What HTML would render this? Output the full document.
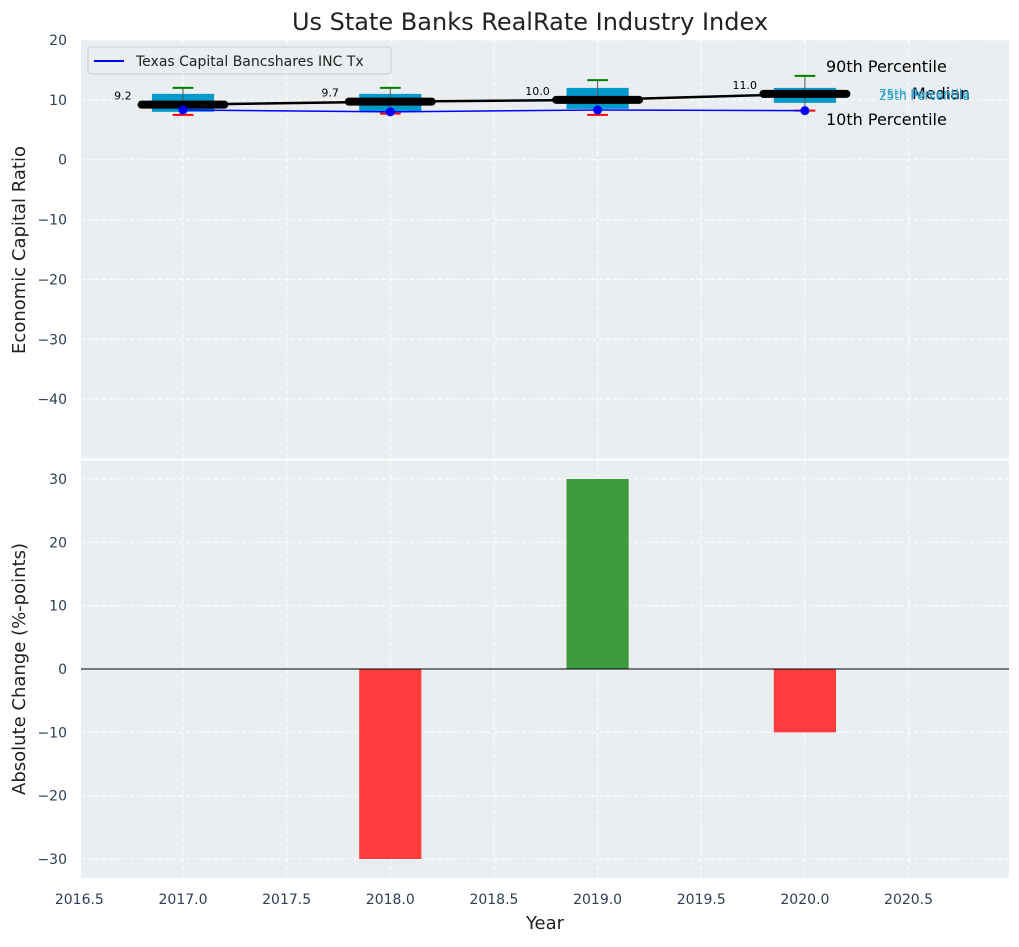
<!DOCTYPE html>
<html><head><meta charset="utf-8"><style>
body{margin:0;background:#fff;font-family:"Liberation Sans","DejaVu Sans",sans-serif}
text{font-family:"DejaVu Sans","Liberation Sans",sans-serif}
</style></head><body>
<svg id="c" width="1019" height="942" xmlns="http://www.w3.org/2000/svg"></svg>
<script>
const years=[2017,2018,2019,2020];
const p10=[7.5,7.7,7.5,8.2];
const p25=[8,8,8.5,9.5];
const med=[9.2,9.7,10.0,11.0];
const p75=[11,11,12,12];
const p90=[12,12,13.3,14];
const company=[8.3,8.0,8.3,8.2];
const change=[0,-30,30,-10];
const xTicks=[2016.5,2017.0,2017.5,2018.0,2018.5,2019.0,2019.5,2020.0,2020.5];
const yTopTicks=[20,10,0,-10,-20,-30,-40];
const yBotTicks=[30,20,10,0,-10,-20,-30];

const NS="http://www.w3.org/2000/svg",svg=document.getElementById('c');
function el(t,a,p){const e=document.createElementNS(NS,t);for(const k in a)e.setAttribute(k,a[k]);(p||svg).appendChild(e);return e;}
const L=81,R=1009;
const x=v=>183+(v-2017)*207.3;
const T0=40,T1=459,B0=460,B1=878;
const yt=v=>T0+(20-v)/70*(T1-T0);
const yb=v=>B0+(33-v)/66*(B1-B0);
function fmt(v){let s=v.toFixed(0);return v<0?'\u2212'+s.slice(1):s;}

[[T0,T1,yt,yTopTicks,'top'],[B0,B1,yb,yBotTicks,'bottom']].forEach(([a,b,f,ticks,n])=>{
 const r=el('rect',{x:L,y:a,width:R-L,height:b-a,fill:'#eaeef0'});
 
 ticks.forEach(t=>{el('line',{x1:L,x2:R,y1:f(t),y2:f(t),stroke:'#fff','stroke-dasharray':'4,3','stroke-width':1});
  const tx=el('text',{x:L-14,y:f(t)+5,'text-anchor':'end','font-size':14,fill:'#2e3e55'});tx.textContent=fmt(t);
  });
 xTicks.forEach(t=>{if(x(t)>L)el('line',{x1:x(t),x2:x(t),y1:a,y2:b,stroke:'#fff','stroke-dasharray':'4,3','stroke-width':1});});
});
el('line',{x1:L,x2:R,y1:459.5,y2:459.5,stroke:'#fff','stroke-width':2});

years.forEach((yr,i)=>{
 const g=el('g',{});
 el('rect',{x:x(yr-0.15),y:yt(p75[i]),width:x(yr+0.15)-x(yr-0.15),height:yt(p25[i])-yt(p75[i]),fill:'#0099cc'},g);
 el('line',{x1:x(yr),x2:x(yr),y1:yt(p90[i]),y2:yt(p10[i]),stroke:'#555','stroke-width':1},g);
 el('line',{x1:x(yr-0.05),x2:x(yr+0.05),y1:yt(p90[i]),y2:yt(p90[i]),stroke:'green','stroke-width':2},g);
 el('line',{x1:x(yr-0.05),x2:x(yr+0.05),y1:yt(p10[i]),y2:yt(p10[i]),stroke:'red','stroke-width':2},g);
 el('line',{x1:x(yr-0.2),x2:x(yr+0.2),y1:yt(med[i]),y2:yt(med[i]),stroke:'#000','stroke-width':8,'stroke-linecap':'round'},g);
 const t=el('text',{x:x(yr-0.29),y:yt(med[i])-5,'text-anchor':'middle','font-size':11,fill:'#000'},g);t.textContent=med[i].toFixed(1);
 
});
const ml=el('polyline',{points:years.map((y,i)=>x(y)+','+yt(med[i])).join(' '),fill:'none',stroke:'#000','stroke-width':2.5});

const cl=el('polyline',{points:years.map((y,i)=>x(y)+','+yt(company[i])).join(' '),fill:'none',stroke:'blue','stroke-width':1.5});

years.forEach((y,i)=>{const c=el('circle',{cx:x(y),cy:yt(company[i]),r:4.5,fill:'blue'});});

[['90th Percentile',826,72,16,'#000'],['Median',912,99,16,'#000'],['10th Percentile',826,125,16,'#000'],['75th Percentile',879,98,12,'#2aa0d0'],['25th Percentile',879,100,12,'#2aa0d0']].forEach(a=>{
 const t=el('text',{x:a[1],y:a[2],'font-size':a[3],fill:a[4]});t.textContent=a[0];
 });

const lg=el('g',{});
el('rect',{x:88,y:47,width:303,height:27,rx:3,fill:'#eaeef0',stroke:'#ccc'},lg);
el('line',{x1:94,x2:124,y1:61,y2:61,stroke:'blue','stroke-width':2},lg);
const lt=el('text',{x:136,y:66,'font-size':14,fill:'#222'},lg);lt.textContent='Texas Capital Bancshares INC Tx';

years.forEach((yr,i)=>{const v=change[i];if(!v)return;
 const b=el('rect',{x:x(yr-0.15),y:yb(Math.max(v,0)),width:x(yr+0.15)-x(yr-0.15),height:Math.abs(yb(v)-yb(0)),fill:v>0?'#3d9c3d':'#fd3d3d'});
 });
el('line',{x1:L,x2:R,y1:yb(0),y2:yb(0),stroke:'#000','stroke-width':1});

xTicks.forEach(t=>{const tx=el('text',{x:x(t),y:904,'text-anchor':'middle','font-size':14,fill:'#2e3e55'});tx.textContent=t.toFixed(1);
 });

function lab(s,a,n){const t=el('text',a);t.textContent=s;}
lab('Us State Banks RealRate Industry Index',{x:530,y:30,'text-anchor':'middle','font-size':24,fill:'#222'},'chart-title');
lab('Year',{x:545,y:929,'text-anchor':'middle','font-size':18,fill:'#222'},'x-axis-title');
lab('Economic Capital Ratio',{x:0,y:0,transform:'translate(25,250) rotate(-90)','text-anchor':'middle','font-size':18,fill:'#222'},'y-axis-title-top');
lab('Absolute Change (%-points)',{x:0,y:0,transform:'translate(25,669) rotate(-90)','text-anchor':'middle','font-size':18,fill:'#222'},'y-axis-title-bottom');
</script></body></html>
